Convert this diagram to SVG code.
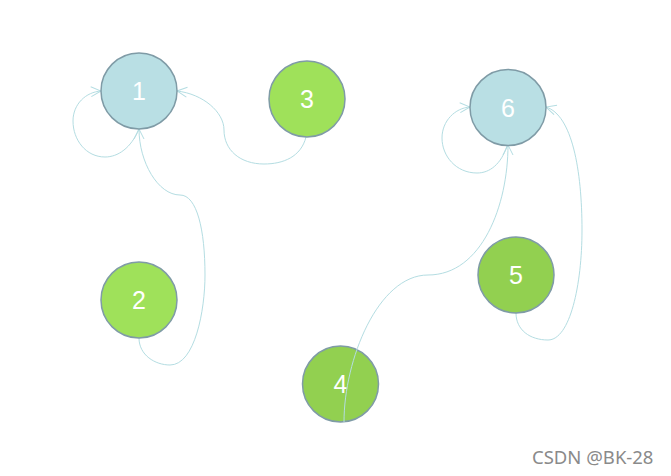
<svg xmlns="http://www.w3.org/2000/svg" width="671" height="476" viewBox="0 0 671 476">
<style>
.edge{fill:none;stroke:#b4dde2;stroke-width:1}
.blue{fill:#b9dfe4;stroke:#7f9ba6;stroke-width:1.5}
.green{fill:#9fe15a;stroke:#7f9ba6;stroke-width:1.5}
.dgreen{fill:#92d050;stroke:#7f9ba6;stroke-width:1.5}
.lbl{fill:#ffffff;font-family:"Liberation Sans",Arial,sans-serif;font-size:25px;text-anchor:middle;dominant-baseline:central}
.wm{fill:#8a8a8a;font-family:"Noto Sans","DejaVu Sans",sans-serif;font-size:18.5px}
</style>
<defs>
<marker id="arr" viewBox="0 0 12 12" refX="11" refY="6" markerWidth="12" markerHeight="12" markerUnits="userSpaceOnUse" orient="auto">
<path d="M1,1 L11,6 L1,11" fill="none" stroke="#b4dde2" stroke-width="1"/>
</marker>
</defs>
<rect width="671" height="476" fill="#ffffff"/>
<g id="node4"><circle class="dgreen" cx="340.5" cy="384" r="38"/><text class="lbl" x="340.5" y="384">4</text></g>
<g id="connectors">
<path class="edge" marker-end="url(#arr)" d="M139,129 C131,148 118,157 105,157 C86,157 73,140 73,121 C73,104 86,92 101,91"/>
<path class="edge" marker-end="url(#arr)" d="M306,137 C301,157 283,164 264,164 C240,164 224,150 224,130 C224,112 203,94 177,91"/>
<path class="edge" marker-end="url(#arr)" d="M139,338 C139,355 155,365 170,365 C195,365 205,310 205,275 C205,230 197,195 180,195 C158,195 139,162 139,129"/>
<path class="edge" marker-end="url(#arr)" d="M344,422 C344,360 378,275 428,275 C482,275 508,205 508,145"/>
<path class="edge" marker-end="url(#arr)" d="M516,313 C516,330 530,340 548,340 C570,340 582,285 582,230 C582,170 572,115 546,107"/>
<path class="edge" marker-end="url(#arr)" d="M507,146 C501,164 490,173 477,173 C456,173 442,156 442,138 C442,121 455,108 470,107"/>
</g>
<g id="node1"><circle class="blue" cx="139" cy="91" r="38"/><text class="lbl" x="139" y="91">1</text></g>
<g id="node3"><circle class="green" cx="307" cy="99" r="38"/><text class="lbl" x="307" y="99">3</text></g>
<g id="node6"><circle class="blue" cx="508" cy="107.5" r="38"/><text class="lbl" x="508" y="107.5">6</text></g>
<g id="node2"><circle class="green" cx="139" cy="300" r="38"/><text class="lbl" x="139" y="300">2</text></g>
<g id="node5"><circle class="dgreen" cx="516" cy="275" r="38"/><text class="lbl" x="516" y="275">5</text></g>
<text class="wm" x="532" y="464">CSDN @BK-28</text>
</svg>
